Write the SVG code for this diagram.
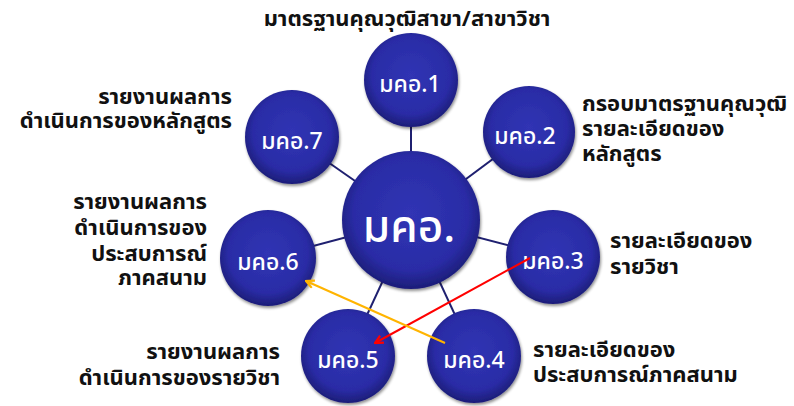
<svg xmlns="http://www.w3.org/2000/svg" width="794" height="406" viewBox="0 0 794 406">
<defs>
<radialGradient id="ball" cx="50%" cy="45%" r="55%">
<stop offset="0" stop-color="#3034b4"/>
<stop offset="0.75" stop-color="#2a2ca6"/>
<stop offset="1" stop-color="#1c1d78"/>
</radialGradient>
<filter id="sh" x="-20%" y="-20%" width="140%" height="140%">
<feGaussianBlur in="SourceAlpha" stdDeviation="1.5"/>
<feOffset dx="1" dy="2" result="b"/>
<feComponentTransfer><feFuncA type="linear" slope="0.45"/></feComponentTransfer>
<feMerge><feMergeNode/><feMergeNode in="SourceGraphic"/></feMerge>
</filter>
<marker id="redHead" markerWidth="10" markerHeight="10" refX="9" refY="5" orient="auto" markerUnits="userSpaceOnUse">
<path d="M1,1 L9,5 L1,9" fill="none" stroke="#ff0000" stroke-width="2.2"/>
</marker>
<marker id="yelHead" markerWidth="10" markerHeight="10" refX="9" refY="5" orient="auto" markerUnits="userSpaceOnUse">
<path d="M1,1 L9,5 L1,9" fill="none" stroke="#ffb400" stroke-width="2.2"/>
</marker>
</defs>
<style>
.ball{fill:url(#ball);filter:url(#sh)}
.ct{font-family:"Noto Sans Thai","Tahoma","Noto Sans","DejaVu Sans",sans-serif;fill:#ffffff;text-anchor:middle;font-weight:500}
.sm{font-size:23px}
.big{font-size:44px}
.lbl{font-family:"Noto Sans Thai","Tahoma","Noto Sans","DejaVu Sans",sans-serif;font-size:22px;font-weight:bold;fill:#111111}
.conn{stroke:#1f2070;stroke-width:2;fill:none}
</style>
<rect width="794" height="406" fill="#ffffff"/>
<g id="connectors">
<line class="conn" x1="411" y1="220" x2="411" y2="80"/>
<line class="conn" x1="411" y1="220" x2="529" y2="132"/>
<line class="conn" x1="411" y1="220" x2="553" y2="257"/>
<line class="conn" x1="411" y1="220" x2="474" y2="356"/>
<line class="conn" x1="411" y1="220" x2="348" y2="356"/>
<line class="conn" x1="411" y1="220" x2="268" y2="258"/>
<line class="conn" x1="411" y1="220" x2="292" y2="137"/>
</g>
<g id="n-center"><circle class="ball" cx="411" cy="220" r="69"/><text class="ct big" x="409" y="242">มคอ.</text></g>
<g id="n1"><circle class="ball" cx="411" cy="80" r="47"/><text class="ct sm" x="410" y="92">มคอ.1</text>
<text class="lbl" x="407" y="26" text-anchor="middle">มาตรฐานคุณวุฒิสาขา/สาขาวิชา</text></g>
<g id="n2"><circle class="ball" cx="529" cy="132" r="46"/><text class="ct sm" x="525" y="144">มคอ.2</text>
<text class="lbl" x="582"><tspan x="582" y="111">กรอบมาตรฐานคุณวุฒิ</tspan><tspan x="582" y="136">รายละเอียดของ</tspan><tspan x="582" y="161">หลักสูตร</tspan></text></g>
<g id="n3"><circle class="ball" cx="553" cy="257" r="47"/><text class="ct sm" x="553" y="269">มคอ.3</text>
<text class="lbl" x="610"><tspan x="610" y="248">รายละเอียดของ</tspan><tspan x="610" y="274">รายวิชา</tspan></text></g>
<g id="n4"><circle class="ball" cx="474" cy="356" r="47"/><text class="ct sm" x="474" y="368">มคอ.4</text>
<text class="lbl" x="533"><tspan x="533" y="357">รายละเอียดของ</tspan><tspan x="533" y="382">ประสบการณ์ภาคสนาม</tspan></text></g>
<g id="n5"><circle class="ball" cx="348" cy="356" r="47"/><text class="ct sm" x="348" y="368">มคอ.5</text>
<text class="lbl" text-anchor="end"><tspan x="280" y="359">รายงานผลการ</tspan><tspan x="280" y="385">ดำเนินการของรายวิชา</tspan></text></g>
<g id="n6"><circle class="ball" cx="268" cy="258" r="48"/><text class="ct sm" x="268" y="270">มคอ.6</text>
<text class="lbl" text-anchor="end"><tspan x="207" y="209">รายงานผลการ</tspan><tspan x="207" y="235">ดำเนินการของ</tspan><tspan x="207" y="261">ประสบการณ์</tspan><tspan x="207" y="285">ภาคสนาม</tspan></text></g>
<g id="n7"><circle class="ball" cx="292" cy="137" r="47"/><text class="ct sm" x="292" y="149">มคอ.7</text>
<text class="lbl" text-anchor="end"><tspan x="232" y="104">รายงานผลการ</tspan><tspan x="232" y="128">ดำเนินการของหลักสูตร</tspan></text></g>
<g id="arrows">
<line x1="530" y1="258" x2="375" y2="343" stroke="#ff0000" stroke-width="2" marker-end="url(#redHead)"/>
<line x1="445" y1="343" x2="306" y2="281" stroke="#ffb400" stroke-width="2" marker-end="url(#yelHead)"/>
</g>
</svg>
